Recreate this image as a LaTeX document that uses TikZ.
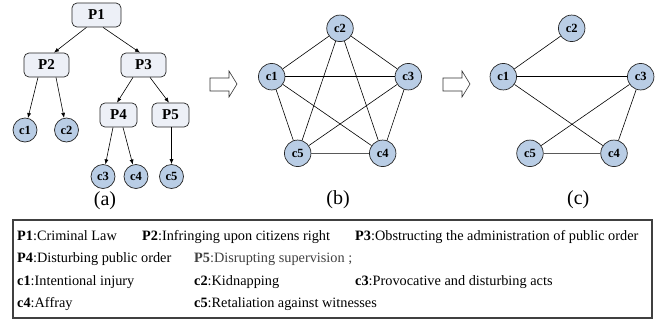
\documentclass[tikz,border=0pt]{standalone}
\usepackage{fontspec}
\setmainfont{Liberation Serif}
\usetikzlibrary{arrows.meta}
\definecolor{cfill}{HTML}{B9CDE5}
\definecolor{pfill}{HTML}{EDF0F7}
\definecolor{edgec}{HTML}{262626}
\begin{document}
\begin{tikzpicture}[x=1pt,y=-1pt,
  pbox/.style={draw=edgec,fill=pfill,rounded corners=5pt,minimum height=24pt,inner sep=0pt,line width=0.7pt,font=\fontsize{15}{18}\selectfont\bfseries},
  cnode/.style={circle,draw=edgec,fill=cfill,inner sep=0pt,line width=0.7pt,font=\fontsize{12.5}{15}\selectfont\bfseries},
  tcn/.style={cnode,minimum size=24pt},
  gcn/.style={cnode,minimum size=26.5pt},
  tarr/.style={draw=black,line width=0.6pt,-{Latex[length=5pt,width=4pt]}},
  gedge/.style={draw=black,line width=0.6pt},
  gedgeb/.style={draw=black!65,line width=1.1pt},
  blockarr/.style={draw=black!80,fill=white,line width=0.6pt},
  captext/.style={font=\fontsize{20}{24}\selectfont},
  leg/.style={anchor=base west,inner sep=0pt,font=\fontsize{14.3}{16}\selectfont}
]
\useasboundingbox (0,0) rectangle (670,322);

% ---- tree (a)
\node[pbox,minimum width=49pt] (P1) at (96.5,15) {P1};
\node[pbox,minimum width=45pt] (P2) at (46.5,65) {P2};
\node[pbox,minimum width=45pt] (P3) at (143.5,65) {P3};
\node[pbox,minimum width=37pt] (P4) at (118.5,115) {P4};
\node[pbox,minimum width=37pt] (P5) at (170.5,115) {P5};
\node[tcn] (t1) at (25,130) {c1};
\node[tcn] (t2) at (66.5,130) {c2};
\node[tcn] (t3) at (103,176.5) {c3};
\node[tcn] (t4) at (136,176.5) {c4};
\node[tcn] (t5) at (171.5,176.5) {c5};
\draw[tarr] ([xshift=-10pt]P1.south) -- ([xshift=7.5pt]P2.north);
\draw[tarr] ([xshift=6.5pt]P1.south) -- ([xshift=-3.5pt]P3.north);
\draw[tarr] ([xshift=-8.5pt]P2.south) -- (t1);
\draw[tarr] ([xshift=9.5pt]P2.south) -- (t2);
\draw[tarr] ([xshift=-10.5pt]P3.south) -- ([xshift=-1.5pt]P4.north);
\draw[tarr] ([xshift=6.5pt]P3.south) -- ([xshift=-1.5pt]P5.north);
\draw[tarr] ([xshift=-5.5pt]P4.south) -- (t3);
\draw[tarr] ([xshift=4.5pt]P4.south) -- (t4);
\draw[tarr] ([xshift=1pt]P5.south) -- (t5);
\node[captext] (la) at (105,201) {(a)};

% ---- block arrows
\draw[blockarr] (210,78) -- (229,78) -- (229,71) -- (237,84) -- (229,97) -- (229,91) -- (210,91) -- cycle;
\draw[blockarr] (443,78) -- (462,78) -- (462,71) -- (470,84) -- (462,97) -- (462,91) -- (443,91) -- cycle;

% ---- graph (b)
\node[gcn] (b2) at (340,28.3) {c2};
\node[gcn] (b1) at (271.7,76.7) {c1};
\node[gcn] (b3) at (408.3,76.7) {c3};
\node[gcn] (b5) at (297.7,153.3) {c5};
\node[gcn] (b4) at (382.7,153.3) {c4};
\draw[gedge] (b1) -- (b2);
\draw[gedge] (b2) -- (b3);
\draw[gedge] (b1) -- (b3);
\draw[gedge] (b1) -- (b5);
\draw[gedge] (b1) -- (b4);
\draw[gedge] (b2) -- (b5);
\draw[gedge] (b2) -- (b4);
\draw[gedge] (b3) -- (b5);
\draw[gedge] (b3) -- (b4);
\draw[gedgeb] (b5) -- (b4);
\node[captext] (lb) at (338,200) {(b)};

% ---- graph (c)
\node[gcn] (g2) at (571.7,28.3) {c2};
\node[gcn] (g1) at (503.3,76.7) {c1};
\node[gcn] (g3) at (640.7,76.7) {c3};
\node[gcn] (g5) at (530,153.3) {c5};
\node[gcn] (g4) at (614,153.3) {c4};
\draw[gedge] (g1) -- (g2);
\draw[gedge] (g1) -- (g3);
\draw[gedge] (g1) -- (g4);
\draw[gedge] (g3) -- (g5);
\draw[gedge] (g3) -- (g4);
\draw[gedgeb] (g5) -- (g4);
\node[captext] (lc) at (578.3,200) {(c)};

% ---- legend
\draw[draw=black!75,line width=1.3pt] (13,220) rectangle (652,318);
\node[leg] (l1) at (17,240) {\textbf{P1}:Criminal Law};
\node[leg] (l2) at (142,240) {\textbf{P2}:Infringing upon citizens right};
\node[leg] (l3) at (355,240) {\textbf{P3}:Obstructing the administration of public order};
\node[leg] (l4) at (17,262) {\textbf{P4}:Disturbing public order};
\node[leg,text=black!75] (l5) at (194,262) {\textbf{P5}:Disrupting supervision ;};
\node[leg] (l6) at (17,285) {\textbf{c1}:Intentional injury};
\node[leg] (l7) at (194,285) {\textbf{c2}:Kidnapping};
\node[leg] (l8) at (355,285) {\textbf{c3}:Provocative and disturbing acts};
\node[leg] (l9) at (17,307.5) {\textbf{c4}:Affray};
\node[leg] (l10) at (194,307.5) {\textbf{c5}:Retaliation against witnesses};
\end{tikzpicture}
\end{document}
